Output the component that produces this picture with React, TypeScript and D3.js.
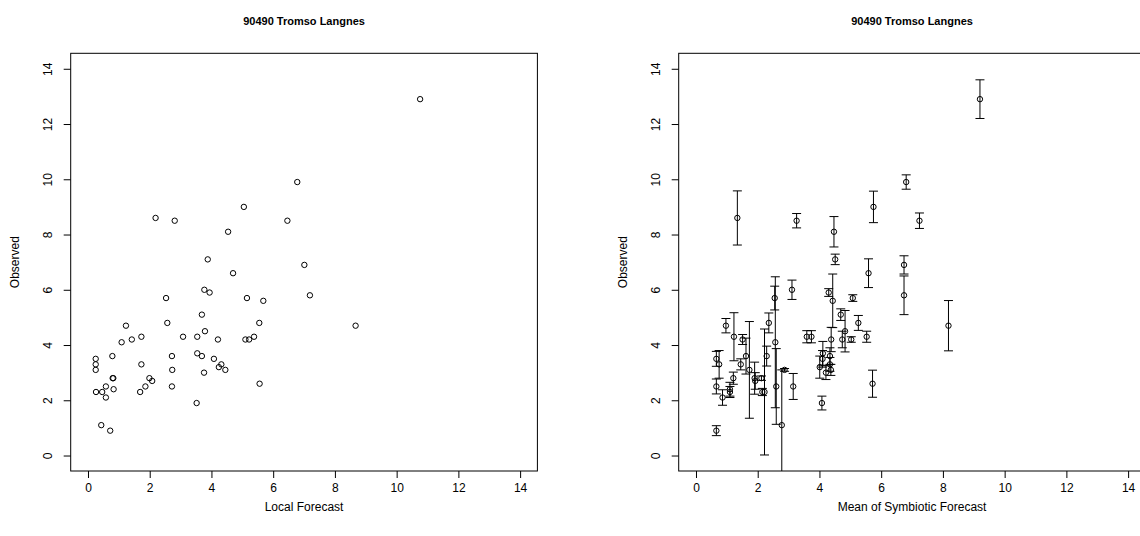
import { useEffect, useRef } from 'react'
import * as d3 from 'd3'

const chartTitle = '90490 Tromso Langnes'
const xLabels = ['Local Forecast', 'Mean of Symbiotic Forecast']
const yLabel = 'Observed'
const tickValues = [0, 2, 4, 6, 8, 10, 12, 14]
// R pads xlim/ylim c(0,14) by 4% on each side
const axisDomain: [number, number] = [-0.56, 14.56]

const observed = [
  12.9, 9.9, 9.0, 8.6, 8.5, 8.5, 8.1, 7.1, 6.9, 6.6,
  6.0, 5.9, 5.8, 5.7, 5.7, 5.6, 5.1, 4.8, 4.8, 4.7,
  4.7, 4.5, 4.3, 4.3, 4.3, 4.3, 4.2, 4.2, 4.2, 4.2,
  4.1, 3.7, 3.6, 3.6, 3.6, 3.5, 3.5, 3.3, 3.3, 3.3,
  3.2, 3.1, 3.1, 3.1, 3.0, 2.8, 2.8, 2.8, 2.7, 2.6,
  2.5, 2.5, 2.5, 2.4, 2.3, 2.3, 2.3, 2.1, 1.9, 1.1,
  0.9
]

const localForecast = [
  10.76, 6.78, 5.05, 2.19, 2.81, 6.46, 4.54, 3.88, 7.01, 4.70,
  3.77, 3.94, 7.19, 2.53, 5.15, 5.68, 3.69, 2.57, 5.55, 1.23,
  8.67, 3.79, 3.08, 3.54, 1.73, 5.38, 1.42, 4.21, 5.10, 5.22,
  1.09, 3.54, 0.79, 2.72, 3.69, 0.25, 4.08, 0.25, 1.73, 4.32,
  4.24, 0.25, 2.73, 4.45, 3.76, 0.80, 0.82, 1.99, 2.08, 5.56,
  0.58, 1.86, 2.72, 0.83, 0.26, 0.46, 1.69, 0.58, 3.52, 0.43,
  0.72
]

const symbioticMean = [
  9.20, 6.81, 5.75, 1.34, 3.26, 7.24, 4.47, 4.51, 6.74, 5.59,
  3.11, 4.30, 6.74, 2.55, 5.08, 4.43, 4.69, 2.36, 5.26, 0.97,
  8.18, 4.83, 3.59, 3.74, 1.23, 5.53, 1.51, 4.38, 4.74, 5.03,
  2.57, 4.11, 1.62, 2.29, 4.34, 0.66, 4.10, 0.75, 1.45, 4.34,
  4.01, 1.73, 2.87, 4.37, 4.21, 1.21, 2.12, 1.90, 1.92, 5.72,
  0.66, 2.60, 3.15, 1.10, 1.10, 2.15, 2.22, 0.86, 4.08, 2.78,
  0.66
]

const symbioticSd = [
  0.70, 0.26, 0.57, 0.98, 0.26, 0.28, 0.55, 0.19, 0.33, 0.52,
  0.35, 0.14, 0.70, 0.43, 0.12, 0.97, 0.21, 0.36, 0.27, 0.26,
  0.91, 0.75, 0.22, 0.22, 0.87, 0.20, 0.18, 0.44, 0.30, 0.10,
  2.37, 0.43, 0.65, 0.36, 0.30, 0.27, 0.30, 0.50, 0.20, 0.25,
  0.40, 1.75, 0.05, 0.20, 0.25, 0.22, 0.08, 0.58, 0.30, 0.49,
  0.27, 1.37, 0.47, 0.25, 0.20, 0.13, 2.28, 0.28, 0.25, 2.00,
  0.18
]

const WIDTH = 1140
const HEIGHT = 536
const plotTop = 53.3
const plotHeight = 417.7
const plotWidth = 466.7
const panelLefts = [70.7, 678.7]
const font = 'Liberation Sans, Arial, Helvetica, sans-serif'

export default function App() {
  const svgRef = useRef<SVGSVGElement>(null)

  useEffect(() => {
    if (!svgRef.current) return
    const svg = d3.select(svgRef.current)
    svg.selectAll('*').remove()

    const yScale = d3.scaleLinear().domain(axisDomain).range([plotTop + plotHeight, plotTop])

    panelLefts.forEach((left, p) => {
      const xScale = d3.scaleLinear().domain(axisDomain).range([left, left + plotWidth])
      const xs = p === 0 ? localForecast : symbioticMean
      const g = svg.append('g')

      // title
      g.append('text')
        .attr('x', left + plotWidth / 2)
        .attr('y', 25)
        .attr('text-anchor', 'middle')
        .style('font-family', font)
        .style('font-size', '11px')
        .style('font-weight', 'bold')
        .text(chartTitle)

      // clip for the plot region
      const clipId = `clip-${p}`
      svg.append('clipPath').attr('id', clipId)
        .append('rect')
        .attr('x', left).attr('y', plotTop)
        .attr('width', plotWidth).attr('height', plotHeight)

      // x axis
      g.append('g')
        .attr('transform', `translate(0,${plotTop + plotHeight})`)
        .call(d3.axisBottom(xScale).tickValues(tickValues).tickSize(7).tickPadding(5).tickFormat(d3.format('d')))
        .call(a => a.select('.domain').remove())
        .call(a => a.selectAll('text').style('font-family', font).style('font-size', '12px').attr('fill', '#000'))

      // y axis with rotated labels
      const yAxis = g.append('g')
        .attr('transform', `translate(${left},0)`)
        .call(d3.axisLeft(yScale).tickValues(tickValues).tickSize(7).tickFormat(d3.format('d')))
      yAxis.select('.domain').remove()
      yAxis.selectAll('text')
        .attr('x', null).attr('dy', null)
        .attr('transform', 'translate(-19,0) rotate(-90)')
        .attr('text-anchor', 'middle')
        .attr('fill', '#000')
        .style('font-family', font)
        .style('font-size', '12px')

      // box
      g.append('rect')
        .attr('x', left).attr('y', plotTop)
        .attr('width', plotWidth).attr('height', plotHeight)
        .attr('fill', 'none').attr('stroke', '#000').attr('stroke-width', 1)

      // axis titles
      g.append('text')
        .attr('x', left + plotWidth / 2)
        .attr('y', 511)
        .attr('text-anchor', 'middle')
        .style('font-family', font)
        .style('font-size', '12px')
        .text(xLabels[p])

      g.append('text')
        .attr('transform', `translate(${left - 52},${plotTop + plotHeight / 2}) rotate(-90)`)
        .attr('text-anchor', 'middle')
        .style('font-family', font)
        .style('font-size', '12px')
        .text(yLabel)

      const marks = g.append('g').attr('clip-path', `url(#${clipId})`)

      if (p === 1) {
        const capHalf = 4.5
        const bars = marks.selectAll('g.err')
          .data(observed.map((o, i) => ({ x: xs[i], y: o, sd: symbioticSd[i] })))
          .enter().append('g').attr('class', 'err')
          .attr('stroke', '#000').attr('stroke-width', 1)
        bars.append('line')
          .attr('x1', d => xScale(d.x)).attr('x2', d => xScale(d.x))
          .attr('y1', d => yScale(d.y - d.sd)).attr('y2', d => yScale(d.y + d.sd))
        bars.append('line')
          .attr('x1', d => xScale(d.x) - capHalf).attr('x2', d => xScale(d.x) + capHalf)
          .attr('y1', d => yScale(d.y + d.sd)).attr('y2', d => yScale(d.y + d.sd))
        bars.append('line')
          .attr('x1', d => xScale(d.x) - capHalf).attr('x2', d => xScale(d.x) + capHalf)
          .attr('y1', d => yScale(d.y - d.sd)).attr('y2', d => yScale(d.y - d.sd))
      }

      marks.selectAll('circle')
        .data(observed.map((o, i) => ({ x: xs[i], y: o })))
        .enter().append('circle')
        .attr('cx', d => xScale(d.x))
        .attr('cy', d => yScale(d.y))
        .attr('r', 2.7)
        .attr('fill', 'none')
        .attr('stroke', '#000')
        .attr('stroke-width', 1)
    })
  }, [])

  return (
    <svg
      ref={svgRef}
      width={WIDTH}
      height={HEIGHT}
      style={{ position: 'absolute', left: 0, top: 0, background: '#fff' }}
    />
  )
}
